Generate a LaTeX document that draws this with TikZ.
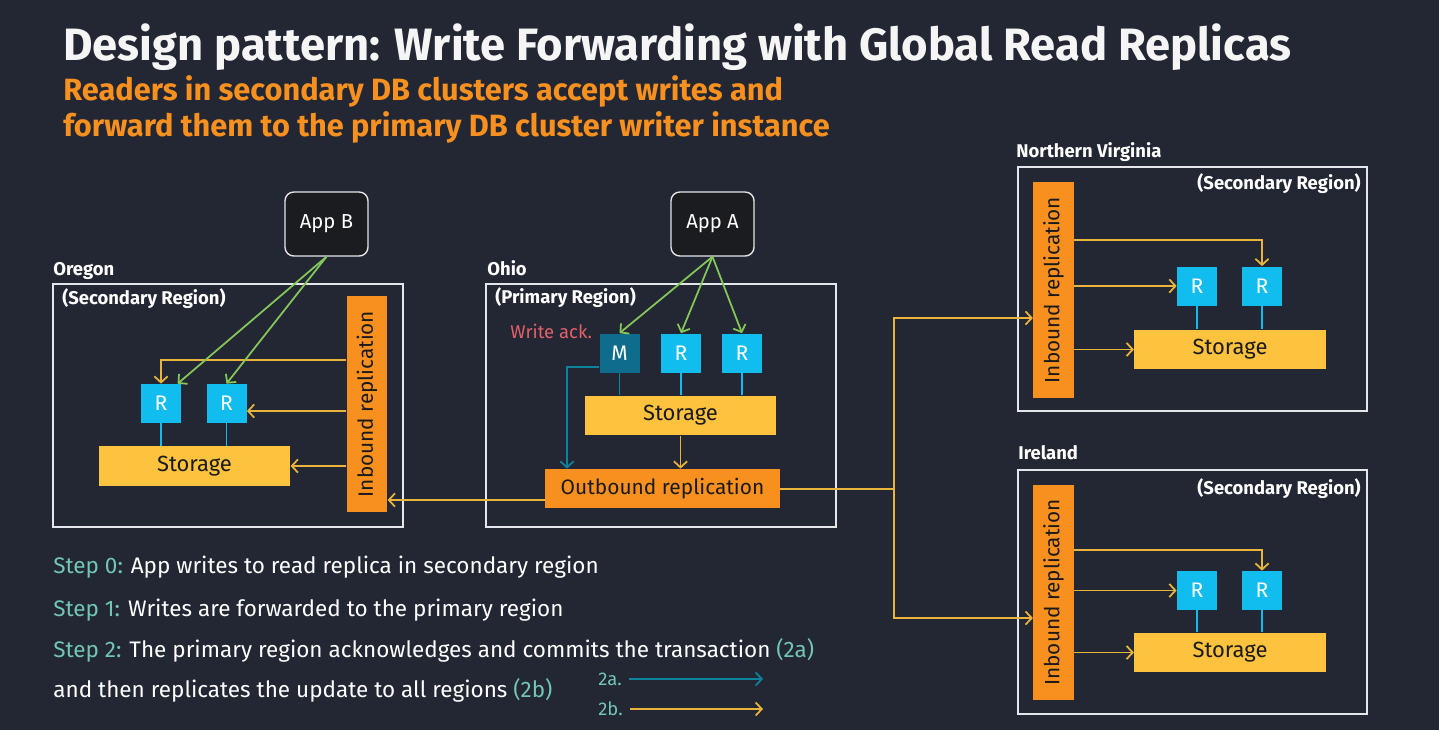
\documentclass[tikz,border=0pt]{standalone}
\usepackage{fontspec}
\setmainfont{Fira Sans}
\usetikzlibrary{arrows.meta}

\definecolor{bgnavy}{HTML}{232733}
\definecolor{boxline}{HTML}{E4E6EA}
\definecolor{orng}{HTML}{F7901E}
\definecolor{stor}{HTML}{FDC23E}
\definecolor{rcyan}{HTML}{10BDEE}
\definecolor{mteal}{HTML}{0E6D8C}
\definecolor{grn}{HTML}{86C75A}
\definecolor{yel}{HTML}{E9B43C}
\definecolor{ackred}{HTML}{E2606B}
\definecolor{stepc}{HTML}{72C6B3}
\definecolor{appfill}{HTML}{1B1C1F}
\definecolor{ink}{HTML}{1A1A1A}

\begin{document}
\begin{tikzpicture}[x=0.02cm,y=-0.02cm,>={Straight Barb[length=3.5pt,width=7.5pt]},
  region/.style={draw=boxline,line width=1.1pt,minimum width=7cm,minimum height=4.86cm},
  rlabel/.style={text=white,font=\bfseries\fontsize{10.5}{12}\selectfont,inner sep=0pt},
  inbound/.style={fill=orng,minimum width=0.81cm,minimum height=4.32cm,inner sep=0pt,text=ink,font=\fontsize{11.8}{13}\selectfont},
  rnode/.style={fill=rcyan,minimum width=0.8cm,minimum height=0.78cm,inner sep=0pt,text=white,font=\fontsize{12}{14}\selectfont},
  mnode/.style={rnode,fill=mteal},
  storage/.style={fill=stor,minimum width=3.83cm,minimum height=0.79cm,inner sep=0pt,text=ink,font=\fontsize{12.5}{14}\selectfont},
  outbound/.style={fill=orng,minimum width=4.7cm,minimum height=0.78cm,inner sep=0pt,text=ink,font=\fontsize{11.9}{14}\selectfont},
  app/.style={draw=boxline,fill=appfill,rounded corners=5pt,line width=0.8pt,minimum width=1.66cm,minimum height=1.28cm,text=white,font=\fontsize{11.5}{13}\selectfont},
  wr/.style={->,grn,line width=1pt},
  rep/.style={->,yel,line width=1pt},
  ack/.style={->,mteal!85!cyan,line width=1pt},
  link/.style={rcyan,line width=1pt},
  steptext/.style={text=white,font=\fontsize{12.8}{15}\selectfont,inner sep=0pt,anchor=base west}
]
\fill[bgnavy] (0,0) rectangle (1439,730);
\useasboundingbox (0,0) rectangle (1439,730);

% headings
\node[anchor=base west,inner sep=0pt,text=white!92!gray,font=\bfseries\fontsize{25.8}{30}\selectfont] (title) at (63,60) {Design pattern: Write Forwarding with Global Read Replicas};
\node[anchor=base west,inner sep=0pt,text=orng,font=\bfseries\fontsize{17.5}{20}\selectfont] (sub1) at (63,100) {Readers in secondary DB clusters accept writes and};
\node[anchor=base west,inner sep=0pt,text=orng,font=\bfseries\fontsize{17.5}{20}\selectfont] (sub2) at (63,136) {forward them to the primary DB cluster writer instance};

% apps
\node[app] (appB) at (326.5,224) {App B};
\node[app] (appA) at (712.5,224) {App A};

% Oregon
\node[region] (oregon) at (228,405.5) {};
\node[rlabel,anchor=base west] (oregonLbl) at (53,275) {Oregon};
\node[rlabel,anchor=base west] (oregonSec) at (62,304) {(Secondary Region)};
\node[inbound] (inbO) at (367,404) {\rotatebox{90}{Inbound replication}};
\node[rnode] (rO1) at (161,403.5) {R};
\node[rnode] (rO2) at (226.5,403.5) {R};
\node[storage] (stO) at (194.5,466) {Storage};
\draw[link] (rO1.south) -- (rO1.south |- stO.north);
\draw[link] (rO2.south) -- (rO2.south |- stO.north);
\draw[rep] (inbO.west |- 0,360) -| (rO1.north);
\draw[rep] (inbO.west |- 0,411) -- (rO2.east |- 0,411);
\draw[rep] (inbO.west |- stO.east) -- (stO.east);
\draw[wr] (appB.south) -- (rO1.50);
\draw[wr] (appB.south) -- (rO2.north);

% Ohio
\node[region] (ohio) at (661,405.5) {};
\node[rlabel,anchor=base west] (ohioLbl) at (487,275) {Ohio};
\node[rlabel,anchor=base west] (ohioPri) at (495,303) {(Primary Region)};
\node[anchor=base west,inner sep=0pt,text=ackred,font=\fontsize{10.5}{12}\selectfont] (writeAck) at (510,338) {Write ack.};
\node[mnode] (mA) at (619.5,353) {M};
\node[rnode] (rA1) at (681,353) {R};
\node[rnode] (rA2) at (742,353) {R};
\node[storage] (stA) at (680.5,415.5) {Storage};
\node[outbound] (outb) at (662.5,488.5) {Outbound replication};
\draw[link,mteal!80!cyan] (mA.south) -- (mA.south |- stA.north);
\draw[link] (rA1.south) -- (rA1.south |- stA.north);
\draw[link] (rA2.south) -- (rA2.south |- stA.north);
\draw[wr] (appA.south) -- (mA.north);
\draw[wr] (appA.south) -- (rA1.north);
\draw[wr] (appA.south) -- (rA2.north);
\draw[ack] (mA.west |- 0,367) -| (outb.north -| 567,0);
\draw[rep] (stA.south) -- (stA.south |- outb.north);
\draw[rep] (outb.west |- 0,500) -- (inbO.east |- 0,500);

% Northern Virginia
\node[region,minimum width=6.98cm,minimum height=4.88cm] (nva) at (1192.5,289) {};
\node[rlabel,anchor=base west] (nvaLbl) at (1016,157) {Northern Virginia};
\node[rlabel,anchor=base east] (nvaSec) at (1361,189) {(Secondary Region)};
\node[inbound] (inbV) at (1053.5,290) {\rotatebox{90}{Inbound replication}};
\node[rnode] (rV1) at (1197,286) {R};
\node[rnode] (rV2) at (1262,286) {R};
\node[storage] (stV) at (1230,349.5) {Storage};
\draw[link] (rV1.south) -- (rV1.south |- stV.north);
\draw[link] (rV2.south) -- (rV2.south |- stV.north);
\draw[rep] (inbV.east |- 0,240) -| (rV2.north);
\draw[rep] (inbV.east |- rV1.west) -- (rV1.west);
\draw[rep] (inbV.east |- stV.west) -- (stV.west);

% Ireland
\node[region,minimum width=6.98cm,minimum height=4.88cm] (irl) at (1192.5,592) {};
\node[rlabel,anchor=base west] (irlLbl) at (1018,459) {Ireland};
\node[rlabel,anchor=base east] (irlSec) at (1361,494) {(Secondary Region)};
\node[inbound,minimum height=4.3cm] (inbI) at (1053.5,592.5) {\rotatebox{90}{Inbound replication}};
\node[rnode] (rI1) at (1197,590.5) {R};
\node[rnode] (rI2) at (1262,590.5) {R};
\node[storage] (stI) at (1230,652.5) {Storage};
\draw[link] (rI1.south) -- (rI1.south |- stI.north);
\draw[link] (rI2.south) -- (rI2.south |- stI.north);
\draw[rep] (inbI.east |- 0,550) -| (rI2.north);
\draw[rep] (inbI.east |- rI1.west) -- (rI1.west);
\draw[rep] (inbI.east |- stI.west) -- (stI.west);

% fan-out from outbound replication
\coordinate (split) at (894,489);
\draw[yel,line width=1pt] (outb.east |- split) -- (split);
\draw[rep] (split) |- (inbV.west |- 0,318);
\draw[rep] (split) |- (inbI.west |- 0,618);

% steps
\node[steptext] (step0) at (53,573) {{\color{stepc}Step 0:} App writes to read replica in secondary region};
\node[steptext] (step1) at (53,616) {{\color{stepc}Step 1:} Writes are forwarded to the primary region};
\node[steptext] (step2) at (53,657) {{\color{stepc}Step 2:} The primary region acknowledges and commits the transaction {\color{stepc}(2a)}};
\node[steptext] (step2b) at (53,697) {and then replicates the update to all regions {\color{stepc}(2b)}};

% legend
\node[anchor=west,inner sep=0pt,text=stepc,font=\fontsize{10.5}{12}\selectfont] (leg2a) at (598,679) {2a.};
\node[anchor=west,inner sep=0pt,text=stepc,font=\fontsize{10.5}{12}\selectfont] (leg2b) at (598,709) {2b.};
\coordinate (leg2aEnd) at (763,679);
\coordinate (leg2bEnd) at (763,709);
\draw[ack] ([xshift=4pt]leg2a.east) -- (leg2aEnd);
\draw[rep] ([xshift=4pt]leg2b.east) -- (leg2bEnd);
\end{tikzpicture}
\end{document}
